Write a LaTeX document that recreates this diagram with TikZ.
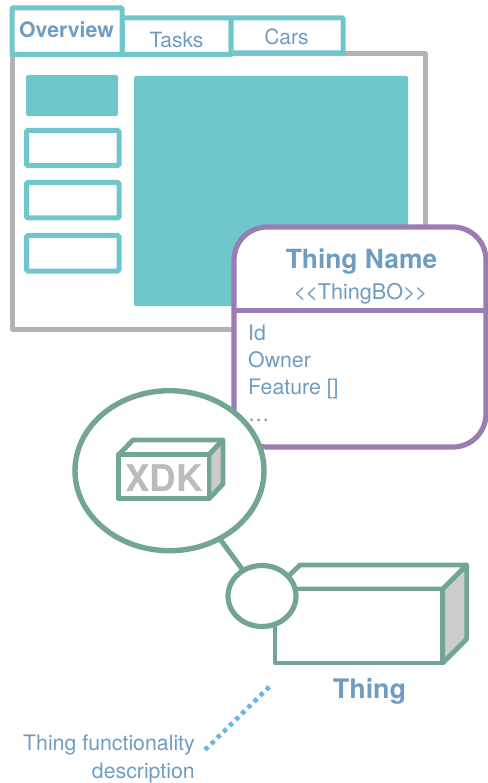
\documentclass[tikz,border=0pt]{standalone}
\usepackage{fontspec}
\setmainfont{TeX Gyre Heros}
\usetikzlibrary{shapes.geometric}
\definecolor{teal1}{HTML}{6FC7CB}
\definecolor{gray1}{HTML}{B3B3B3}
\definecolor{purp}{HTML}{9B7DB3}
\definecolor{grn}{HTML}{72A593}
\definecolor{txt}{HTML}{6F9DC2}
\definecolor{dots}{HTML}{6CB6E4}
\definecolor{side}{HTML}{CCCCCC}
\definecolor{xdk}{HTML}{BBBBBB}
\tikzset{
  tabbox/.style={draw=teal1,line width=5pt,fill=white,rounded corners=1pt},
  solidbox/.style={fill=teal1,rounded corners=2pt},
  btn/.style={draw=teal1,line width=5pt,fill=white,rounded corners=1.5pt},
  lbl/.style={text=txt,inner sep=0pt,anchor=base},
  attr/.style={text=txt,inner sep=0pt,anchor=base west,font=\fontsize{21.3}{24}\selectfont},
  cube/.style={draw=grn,line width=4.8pt,line join=round},
  oval/.style={draw=grn,ellipse,fill=white,inner sep=0pt,outer sep=0pt},
}
\begin{document}
\begin{tikzpicture}[x=1pt,y=-1pt]
\useasboundingbox (0,0) rectangle (487,783);
% window
\draw[draw=gray1,line width=5pt,fill=white,line join=round] (12,54) rectangle (425,329);
\fill[solidbox] (26,75) rectangle (118,116);
\fill[solidbox] (134,76) rectangle (408,306);
\draw[btn] (26.5,130.5) rectangle (119,165.5);
\draw[btn] (26.5,182.5) rectangle (119,218);
\draw[btn] (26.5,235.5) rectangle (119,271);
% tabs
\draw[tabbox] (122,18) rectangle (231,54.5);
\draw[tabbox] (231,18) rectangle (343,53);
\draw[tabbox] (12,8) rectangle (122,54.5);
\node[lbl,font=\bfseries\fontsize{21.3}{24}\selectfont] (ov) at (66.5,38) {Overview};
\node[lbl,font=\fontsize{21}{24}\selectfont] (ta) at (176.5,48) {Tasks};
\node[lbl,font=\fontsize{21}{24}\selectfont] (ca) at (286.5,45) {Cars};
% thing box
\draw[draw=purp,line width=5.2pt,fill=white,rounded corners=33pt] (234,227) rectangle (486,447);
\draw[draw=purp,line width=5pt] (234,310) -- (486,310);
\node[lbl,font=\bfseries\fontsize{26.4}{30}\selectfont] (tn) at (361.5,269) {Thing Name};
\node[lbl,font=\fontsize{21.6}{24}\selectfont] (bo) at (360.5,299) {<\kern-0.8pt<ThingBO>\kern-0.8pt>};
\node[attr] (id) at (248,340) {Id};
\node[attr] (ow) at (248,367) {Owner};
\node[attr] (fe) at (248,394) {Feature []};
\node[attr] (el) at (248,421) {…};
% ovals
\node[oval,line width=5.4pt,minimum width=189pt,minimum height=160pt] (big) at (169.5,470.7) {};
\node[oval,draw=none,fill=none,line width=0pt,minimum width=68pt,minimum height=61pt] (small) at (262,596) {};
\draw[draw=grn,line width=5pt] (big) -- (small);
% xdk cube
\draw[cube,fill=white] (118.7,454.7) -- (133,440) -- (223,440) -- (209,454.7) -- cycle;
\draw[cube,fill=side] (209,454.7) -- (223,440) -- (223,484) -- (209,498.7) -- cycle;
\draw[cube,fill=white] (118.7,454.7) rectangle (209,498.7);
\node[text=xdk,inner sep=0pt,anchor=base,font=\bfseries\fontsize{36.8}{40}\selectfont] (xd) at (164,491) {XDK};
% thing cube
\draw[cube,fill=white] (275,589) -- (300,565) -- (466.7,565) -- (442.7,589) -- cycle;
\draw[cube,fill=side] (442.7,589) -- (466.7,565) -- (466.7,639) -- (442.7,663) -- cycle;
\draw[cube,fill=white] (275,589) rectangle (442.7,663);
\node[oval,line width=5.2pt,minimum width=68pt,minimum height=61pt] (smalltop) at (262,596) {};
\node[lbl,font=\bfseries\fontsize{26.9}{30}\selectfont] (th) at (369.5,698) {Thing};
% note
\coordinate (d1) at (205,749.9);
\coordinate (d2) at (269.8,686.3);
\draw[draw=dots,line width=4.6pt,dash pattern=on 4.3pt off 4.28pt] (d1) -- (d2);
\node[text=txt,inner sep=0pt,anchor=base east,font=\fontsize{21.3}{24}\selectfont] (n1) at (195,750) {Thing functionality};
\node[text=txt,inner sep=0pt,anchor=base east,font=\fontsize{21.3}{24}\selectfont] (n2) at (195,778) {description};
\end{tikzpicture}
\end{document}
